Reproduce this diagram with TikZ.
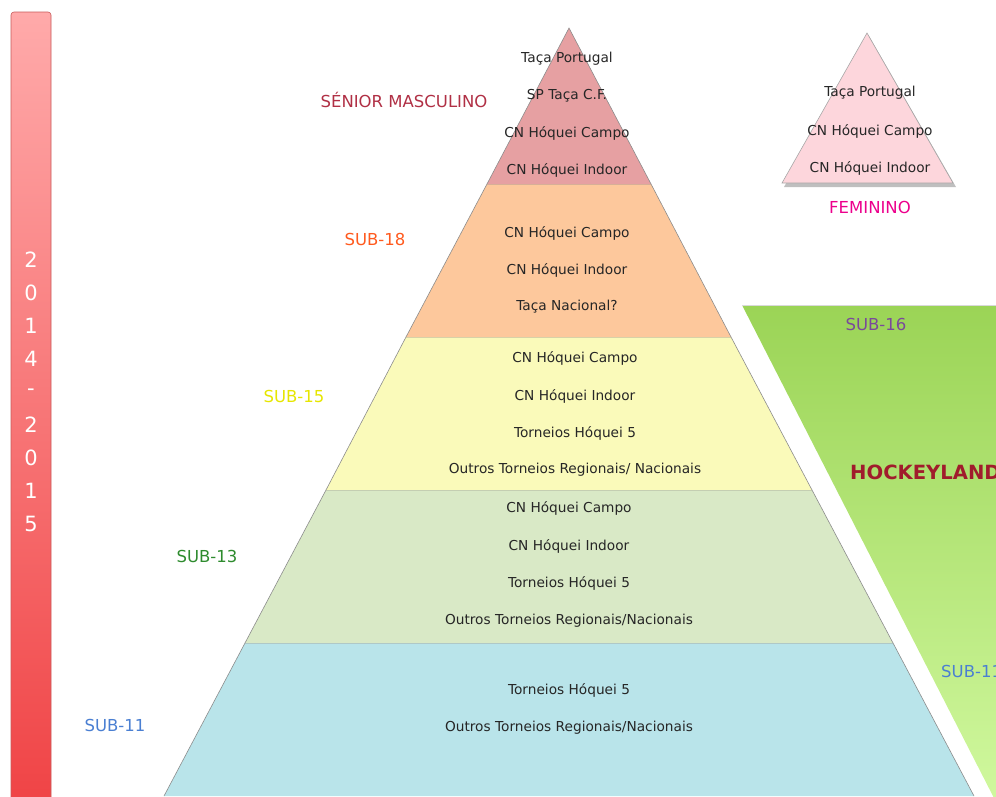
\documentclass[tikz,border=0pt]{standalone}
\usepackage{fontspec}
\setmainfont{DejaVu Sans}
\begin{document}
\begin{tikzpicture}[x=1pt,y=-1pt,
  lay/.style={draw=black!45,line width=0.6pt},
  item/.style={font=\fontsize{13.7}{15}\selectfont,text=black!85,inner sep=0pt},
  lvl/.style={font=\fontsize{16.5}{18}\selectfont,inner sep=0pt},
  yr/.style={font=\fontsize{21}{23}\selectfont,text=white,inner sep=0pt}]
\useasboundingbox (0,0) rectangle (996,796);
\clip (0,0) rectangle (996,796);
\definecolor{cTop}{HTML}{E6A0A2}
\definecolor{cOr}{HTML}{FDC89C}
\definecolor{cYe}{HTML}{FAFABA}
\definecolor{cGr}{HTML}{D9E9C6}
\definecolor{cBl}{HTML}{B9E4EA}
\definecolor{cFem}{HTML}{FDD6DC}
\definecolor{lMasc}{HTML}{B03045}
\definecolor{l18}{HTML}{FF5A1E}
\definecolor{l15}{HTML}{E6E600}
\definecolor{l13}{HTML}{2E8B2E}
\definecolor{l11}{HTML}{4A7FD2}
\definecolor{l16}{HTML}{7A4A9A}
\definecolor{hock}{HTML}{A01C2C}
% left bar
\shade[top color={rgb,255:red,255;green,170;blue,170},bottom color={rgb,255:red,240;green,68;blue,70},rounded corners=3pt,draw={rgb,255:red,200;green,90;blue,90},line width=0.6pt] (11,12) rectangle (51,800);
\foreach \ch [count=\i] in {2,0,1,4,-,2,0,1,5}
  \node[yr] (y\i) at (31,260+33*\i-33) {\ch};
% pyramid layers
\fill[cBl] (245,643) -- (893,643) -- (974,796) -- (164,796) -- cycle;
\draw[lay] (164,796) -- (245,643) -- (893,643) -- (974,796);
\fill[cGr] (326,490) -- (812,490) -- (893,643) -- (245,643) -- cycle;
\draw[lay] (245,643) -- (326,490) -- (812,490) -- (893,643);
\fill[cYe] (406,337) -- (731,337) -- (812,490) -- (326,490) -- cycle;
\draw[lay] (326,490) -- (406,337) -- (731,337) -- (812,490);
\fill[cOr] (487,184) -- (651,184) -- (731,337) -- (406,337) -- cycle;
\draw[lay] (406,337) -- (487,184) -- (651,184) -- (731,337);
\fill[cTop] (569,28) -- (651,184) -- (487,184) -- cycle;
\draw[lay] (487,184) -- (569,28) -- (651,184);
% feminino triangle
\fill[black!25] (869,36) -- (956,187) -- (784,187) -- cycle;
\fill[cFem,draw=black!35,line width=0.6pt] (867,33) -- (953,183) -- (782,183) -- cycle;
% hockeyland shape
\shade[top color={rgb,255:red,155;green,212;blue,86},bottom color={rgb,255:red,208;green,248;blue,158}] (742,305) -- (1000,305) -- (1000,800) -- (995,800) -- cycle;
\draw[black!15,line width=0.5pt] (742,305) -- (996,305);
% texts
\node[item] (t1) at (567,59) {Taça Portugal};
\node[item] (t2) at (567,96) {SP Taça C.F.};
\node[item] (t3) at (567,133) {CN Hóquei Campo};
\node[item] (t4) at (567,170) {CN Hóquei Indoor};
\node[item] (o1) at (567,233) {CN Hóquei Campo};
\node[item] (o2) at (567,270) {CN Hóquei Indoor};
\node[item] (o3) at (567,307) {Taça Nacional?};
\node[item] (y1t) at (575,358) {CN Hóquei Campo};
\node[item] (y2t) at (575,396) {CN Hóquei Indoor};
\node[item] (y3t) at (575,433) {Torneios Hóquei 5};
\node[item] (y4t) at (575,470) {Outros Torneios Regionais/ Nacionais};
\node[item] (g1) at (569,508) {CN Hóquei Campo};
\node[item] (g2) at (569,546) {CN Hóquei Indoor};
\node[item] (g3) at (569,583) {Torneios Hóquei 5};
\node[item] (g4) at (569,621) {Outros Torneios Regionais/Nacionais};
\node[item] (b1) at (569,690) {Torneios Hóquei 5};
\node[item] (b2) at (569,728) {Outros Torneios Regionais/Nacionais};
\node[item] (f1) at (870,93) {Taça Portugal};
\node[item] (f2) at (870,131) {CN Hóquei Campo};
\node[item] (f3) at (870,168) {CN Hóquei Indoor};
% level labels
\node[lvl,text=lMasc] (lm) at (404,100) {SÉNIOR MASCULINO};
\node[lvl,text=l18] (l18n) at (375,239) {SUB-18};
\node[lvl,text=l15] (l15n) at (294,396) {SUB-15};
\node[lvl,text=l13] (l13n) at (207,556) {SUB-13};
\node[lvl,text=l11] (l11n) at (115,725) {SUB-11};
\node[lvl,text=magenta] (lf) at (870,207) {FEMININO};
\node[lvl,text=l16] (l16n) at (876,324) {SUB-16};
\node[font=\bfseries\fontsize{19.6}{22}\selectfont,text=hock,anchor=west,inner sep=0pt] (hk) at (850,472) {HOCKEYLAND};
\node[lvl,text=l11,anchor=west] (l11r) at (941,671) {SUB-11};
\end{tikzpicture}
\end{document}
